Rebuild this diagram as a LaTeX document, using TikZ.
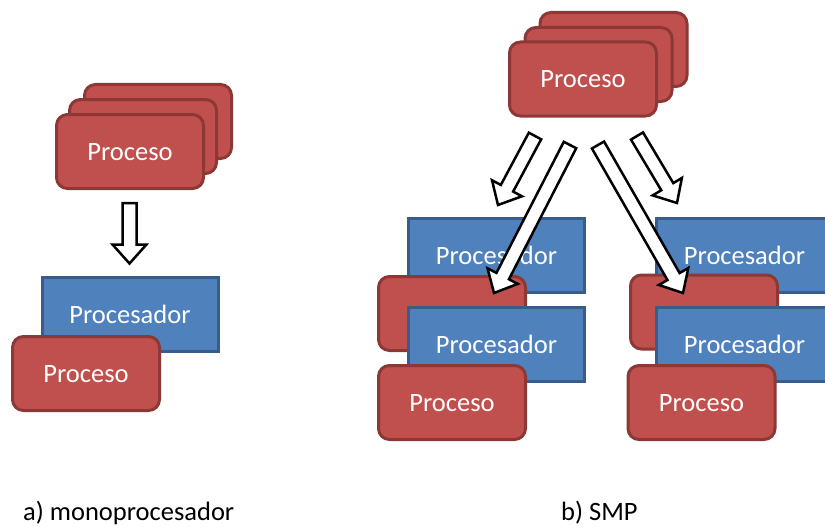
\documentclass[tikz,border=0pt]{standalone}
\usepackage{fontspec}
\setmainfont{Carlito}
\usetikzlibrary{calc}

\definecolor{procfill}{HTML}{C0504D}
\definecolor{procline}{HTML}{8C3836}
\definecolor{cpufill}{HTML}{4F81BD}
\definecolor{cpuline}{HTML}{385D8A}

\tikzset{
  boxtext/.style={text=white, text height=18pt, text depth=0pt,
    font=\fontsize{26.5pt}{30pt}\selectfont},
  proceso/.style={boxtext, draw=procline, fill=procfill, line width=3pt, rounded corners=11pt,
    minimum width=147pt, minimum height=74pt, inner sep=0pt},
  cpu/.style={boxtext, draw=cpuline, fill=cpufill, line width=3pt,
    minimum width=176pt, minimum height=74pt, inner sep=0pt},
  hollow/.style={draw=black, fill=white, line width=2.5pt, line join=miter},
  caption/.style={anchor=base west, inner sep=0pt, font=\fontsize{26.5pt}{30pt}\selectfont}
}

% block arrow with an outlined, white body from #1 to #2
\newcommand\fatarrow[2]{%
  \coordinate (hb) at ($(#2)!19pt!(#1)$);
  \draw[hollow] ($(#1)!7pt!90:(#2)$) -- ($(hb)!7pt!90:(#2)$) -- ($(hb)!17pt!90:(#2)$)
    -- (#2) -- ($(hb)!17pt!-90:(#2)$) -- ($(hb)!7pt!-90:(#2)$)
    -- ($(#1)!7pt!-90:(#2)$) -- cycle;}

\begin{document}
\begin{tikzpicture}[x=1pt, y=-1pt]
\useasboundingbox (0,0) rectangle (825,527);
\clip (0,0) rectangle (825,527);

% ---------- a) single processor ----------
\node[proceso] (ma3) at (158,121.5) {};
\node[proceso] (ma2) at (143,136.5) {};
\node[proceso] (ma1) at (130,151.5) {Proceso};

\node[cpu] (mcpu) at (130,314) {Procesador};
\node[proceso] (mrun) at (86,373.5) {Proceso};

\coordinate (m0) at (129.5,203);
\coordinate (m1) at (129.5,263.5);
\fatarrow{m0}{m1}

\node[caption] (capa) at (23,520) {a) monoprocesador};

% ---------- b) SMP ----------
\node[proceso] (sa3) at (613.5,49.5) {};
\node[proceso] (sa2) at (598.5,64.5) {};
\node[proceso] (sa1) at (583,79) {Proceso};

% left CPU pair
\node[cpu] (lc1) at (496.5,255) {Procesador};
\node[proceso] (lp1) at (452,313.5) {};
\node[cpu] (lc2) at (496.5,344) {Procesador};
\node[proceso] (lp2) at (452,402.5) {Proceso};

% right CPU pair
\node[cpu] (rc1) at (744.5,255) {Procesador};
\node[proceso] (rp1) at (704,312) {};
\node[cpu] (rc2) at (744.5,344) {Procesador};
\node[proceso] (rp2) at (701.5,402.5) {Proceso};

% dispatch arrows
\coordinate (s1a) at (535,136);  \coordinate (s1b) at (498,205);
\coordinate (s2a) at (570,145);  \coordinate (s2b) at (494,293);
\coordinate (s3a) at (598,145);  \coordinate (s3b) at (683,293);
\coordinate (s4a) at (637,136);  \coordinate (s4b) at (677,203);
\fatarrow{s1a}{s1b}
\fatarrow{s2a}{s2b}
\fatarrow{s3a}{s3b}
\fatarrow{s4a}{s4b}

\node[caption] (capb) at (561,520) {b) SMP};
\end{tikzpicture}
\end{document}
